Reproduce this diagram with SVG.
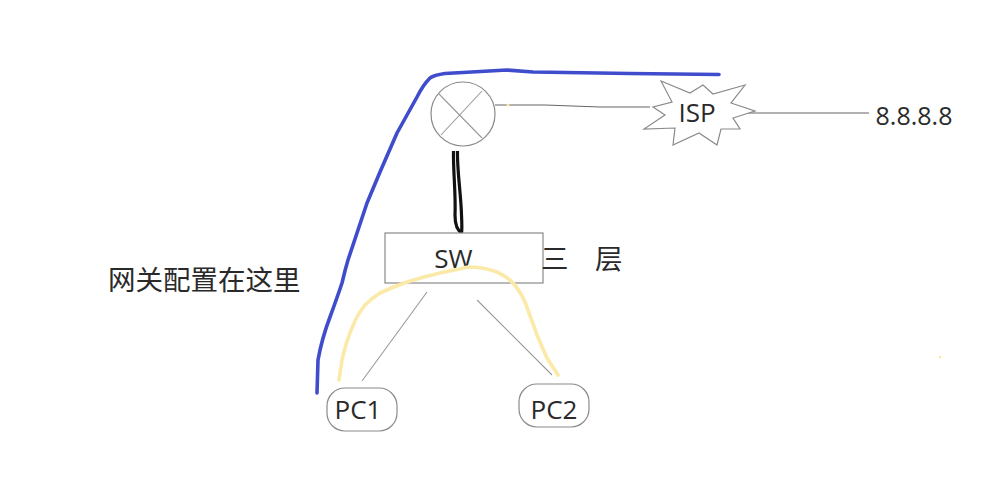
<svg xmlns="http://www.w3.org/2000/svg" width="996" height="488" viewBox="0 0 996 488">
<style>
.n{fill:#fff;stroke:#8a8a8a;stroke-width:1.2}
.l{fill:none;stroke:#9a9a9a;stroke-width:1.1}
.d{fill:none;stroke:#666;stroke-width:1.1}
.t{font-family:"Open Sans","Noto Sans","Noto Sans CJK SC",sans-serif;font-size:26px;fill:#2a2a2a;text-anchor:middle}
.c{font-family:"Noto Sans CJK SC","Noto Sans",sans-serif;font-size:27.5px;fill:#2a2a2a}
.b{fill:none;stroke:#3f4ccb;stroke-width:3.6;stroke-linecap:round;stroke-linejoin:round}
.y{fill:none;stroke:#fbe9a8;stroke-width:3.6;stroke-linecap:round;stroke-linejoin:round}
.s{fill:#fbe7a1}
.k{fill:none;stroke:#111;stroke-width:3.200}
</style>
<rect width="996" height="488" fill="#fff"/>
<g id="connectors">
<path class="d" d="M495 105L545 105L600 107L650 107"/>
<path class="d" d="M745 113L869 113"/>
<path class="l" d="M427 292L362 381"/>
<path class="l" d="M477 300L552 375"/>
<path class="k" d="M453.500 151C453 170 456 195 455 215C455 226 458 231 462 233"/>
<path class="k" d="M457.500 151C457 170 461 195 461.500 215C462 225 462 230 461.500 233"/>
</g>
<g id="router">
<circle class="n" cx="463" cy="114" r="32"/>
<path class="l" d="M439 94L482 138M482 91L441 135"/>
</g>
<g id="isp">
<path class="n" d="M661 81L690 93L703 85L713 94L745 85L731 103L755 111L733 118L740 129L721 129L717 145L699 133L673 145L675 128L644 129L665 115L653 107L672 102Z"/>
<text class="t" x="697" y="122">ISP</text>
</g>
<g id="dns"><text class="t" x="914" y="125" style="font-size:25px">8.8.8.8</text></g>
<g id="sw">
<rect class="n" x="385" y="233" width="158" height="50"/>
<text class="t" x="453.500" y="268">SW</text>
</g>
<g id="layer3"><text class="c" x="541" y="269">三</text><text class="c" x="595" y="269">层</text></g>
<g id="gateway-label"><text class="c" x="108" y="290">网关配置在这里</text></g>
<g id="pc1">
<rect class="n" x="327" y="388" width="70" height="43" rx="18"/>
<text class="t" x="358" y="419">PC1</text>
</g>
<g id="pc2">
<rect class="n" x="519" y="384" width="70" height="43" rx="18"/>
<text class="t" x="554" y="419">PC2</text>
</g>
<g id="annotations">
<path class="b" d="M317 393L318 360Q322 338 330 317Q337 298 342 283Q345 270 348 260Q358 230 367 203L380 172L397 133L417 97Q423 85 430 78Q434 75 445 73.500L507 70L533 72L630 73.500L719 74.500"/>
<path class="y" d="M339 380L342 360Q346 342 352 328Q357 315 365 305Q372 298 380 293Q393 287 407 282Q423 277 440 273Q455 270 468 267Q484 267 497 272Q506 276 513 283Q520 291 525 302Q531 318 537 335Q542 347 547 358L558 375"/>
<circle class="s" cx="508" cy="105" r="1.500"/>
<circle class="s" cx="940" cy="357" r="1.300"/>
</g>
</svg>
